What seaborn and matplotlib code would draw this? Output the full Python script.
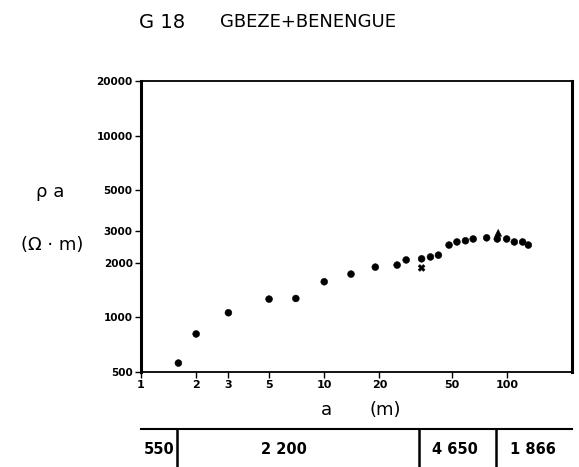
import pandas as pd
import matplotlib
matplotlib.use("Agg")
import matplotlib.pyplot as plt
import seaborn as sns

# electrode spacing a (m) and apparent resistivity (ohm.m)
spacing = [1.6, 2, 3, 5, 7, 10, 14, 19, 25, 28, 34, 38, 42, 48, 53, 59, 65, 77, 88, 99, 109, 121, 130]
rho_a = [560, 810, 1060, 1260, 1270, 1570, 1730, 1890, 1940, 2070, 2100, 2150, 2200,
         2500, 2600, 2640, 2700, 2740, 2700, 2700, 2600, 2600, 2500]
# extra readings drawn with other symbols
extra_spacing = [34, 89]
extra_rho = [1870, 2920]
extra_kind = ["x", "peak"]

# layer model shown under the curve
layer_rho = ["550", "2 200", "4 650", "1 866"]
layer_bounds = [1.57, 33, 87]
layer_label_pos = [1.25, 6, 52, 137]

x_ticks = [1, 2, 3, 5, 10, 20, 50, 100]
y_ticks = [500, 1000, 2000, 3000, 5000, 10000, 20000]

sns.set_style("ticks")
plt.rcParams["font.family"] = ["DejaVu Sans"]
plt.rcParams["text.color"] = "black"
plt.rcParams["xtick.color"] = "black"
plt.rcParams["ytick.color"] = "black"
plt.rcParams["axes.labelcolor"] = "black"

df = pd.DataFrame({"a": spacing, "rho": rho_a, "kind": "point"})
df = pd.concat([df, pd.DataFrame({"a": extra_spacing, "rho": extra_rho, "kind": extra_kind})],
               ignore_index=True)

fig = plt.figure(figsize=(5.79, 4.67), dpi=100)
ax = fig.add_axes([0.2435, 0.2034, 0.7444, 0.6231])
sns.scatterplot(data=df, x="a", y="rho", style="kind",
                markers={"point": "o", "x": "X", "peak": "^"},
                color="black", s=24, edgecolor="black", legend=False, ax=ax)
ax.set_xscale("log")
ax.set_yscale("log")
ax.set_xlim(1, 225)
ax.set_ylim(500, 20000)
ax.minorticks_off()
ax.set_xticks(x_ticks)
ax.set_xticklabels([str(v) for v in x_ticks], fontsize=8, fontweight="bold")
ax.set_yticks(y_ticks)
ax.set_yticklabels([str(v) for v in y_ticks], fontsize=7.5, fontweight="bold")
ax.tick_params(axis="both", direction="out", length=4, width=1, color="black", pad=2)
ax.set_xlabel("")
ax.set_ylabel("")
for side in ["left", "right"]:
    ax.spines[side].set_linewidth(2.2)
for side in ["top", "bottom"]:
    ax.spines[side].set_linewidth(1.3)
for sp in ax.spines.values():
    sp.set_color("black")

# layer table
tab = fig.add_axes([0.2435, 0.0, 0.7444, 0.081])
tab.set_xscale("log")
tab.set_xlim(1, 225)
tab.set_ylim(0, 1)
for side in ["left", "right", "bottom"]:
    tab.spines[side].set_visible(False)
tab.spines["top"].set_linewidth(1.5)
tab.spines["top"].set_color("black")
tab.set_xticks([])
tab.set_yticks([])
tab.minorticks_off()
for b in layer_bounds:
    tab.axvline(b, color="black", lw=1.8)
for pos, lab in zip(layer_label_pos, layer_rho):
    tab.text(pos, 0.47, lab, ha="center", va="center", fontsize=10.5, fontweight="bold")

fig.text(139 / 579, 1 - 22 / 467, "G 18", fontsize=14, ha="left", va="center")
fig.text(220 / 579, 1 - 22 / 467, "GBEZE+BENENGUE", fontsize=13, ha="left", va="center")
fig.text(50 / 579, 1 - 192 / 467, "ρ a", fontsize=13, ha="center", va="center")
fig.text(52 / 579, 1 - 245 / 467, "(Ω · m)", fontsize=13, ha="center", va="center")
fig.text(326 / 579, 1 - 410 / 467, "a", fontsize=13, ha="center", va="center")
fig.text(385 / 579, 1 - 410 / 467, "(m)", fontsize=13, ha="center", va="center")

fig.savefig("out.png", dpi=100)
